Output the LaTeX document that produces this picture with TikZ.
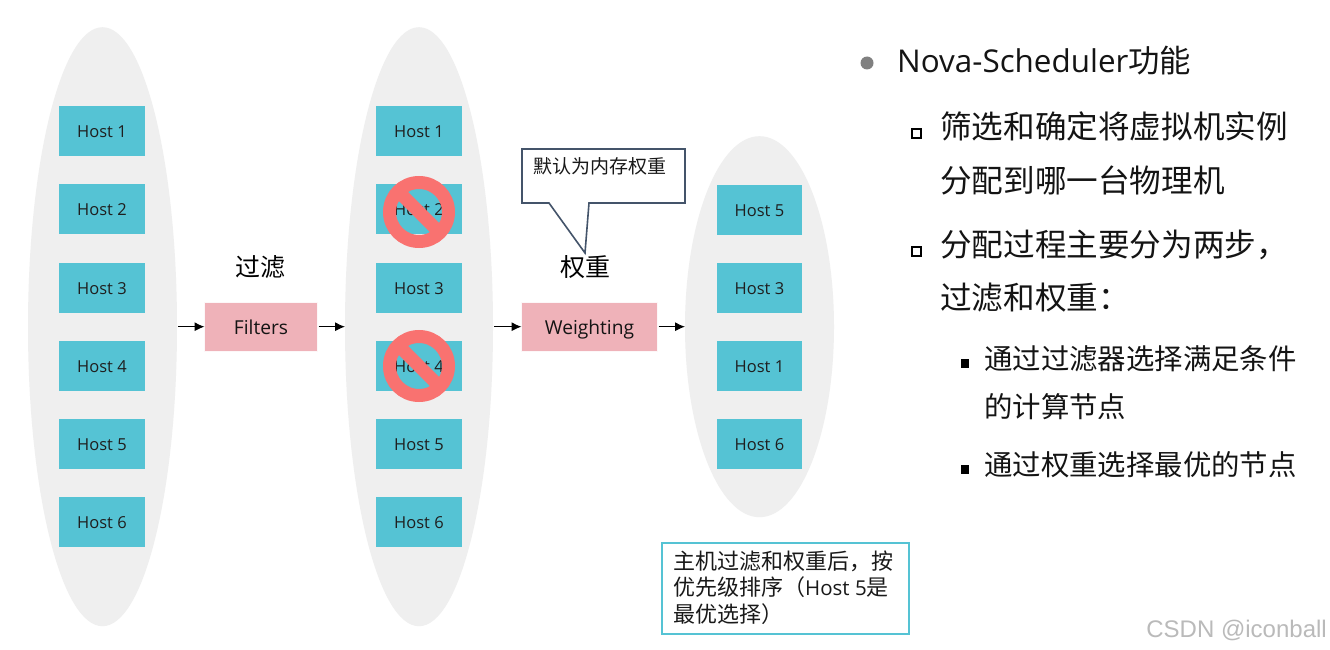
\documentclass[tikz,border=0pt]{standalone}
\usepackage{fontspec}
\setmainfont{Open Sans}
\newfontfamily\cjk{Noto Sans CJK SC}
\newfontfamily\wm{Liberation Sans}
\usetikzlibrary{arrows.meta,shapes.geometric}
\definecolor{hostc}{HTML}{55C3D4}
\definecolor{pinkc}{HTML}{EFB2B9}
\definecolor{ellc}{HTML}{EFEFEF}
\definecolor{noc}{HTML}{F97270}
\definecolor{callc}{HTML}{44546A}
\tikzset{
  x=1pt,y=-1pt,
  ell/.style={ellipse,fill=ellc,inner sep=0,outer sep=0},
  hostbox/.style={fill=hostc,minimum width=86,minimum height=50,inner sep=0,outer sep=0,text height=13,text depth=0,font=\fontsize{16.5}{18}\selectfont,text=black!88},
  pinkbox/.style={fill=pinkc,draw=white!90!pinkc,line width=.6,minimum height=48.5,inner sep=0,outer sep=0,text height=16,text depth=0,font=\fontsize{19.2}{21}\selectfont,text=black!92},
  flow/.style={-{Latex[length=10,width=9]},line width=1,black,shorten <=1,shorten >=0},
  headcn/.style={inner sep=0,font=\cjk\fontsize{25}{28}\selectfont},
  lone/.style={anchor=base west,inner sep=0,font=\cjk\fontsize{31.4}{36}\selectfont,text=black!92},
  ltwo/.style={anchor=base west,inner sep=0,font=\cjk\fontsize{31.6}{36}\selectfont,text=black!92},
  lthree/.style={anchor=base west,inner sep=0,font=\cjk\fontsize{28.4}{32}\selectfont,text=black!92},
  nobar/.style={line width=13,noc},
  noring/.style={circle,draw=noc,line width=13,minimum size=59,inner sep=0,outer sep=0},
  notetext/.style={anchor=base west,inner sep=0,font=\cjk\fontsize{22}{24}\selectfont,text=black!90},
}
\begin{document}
\begin{tikzpicture}
\useasboundingbox (0,0) rectangle (1330,650);
\fill[white] (0,0) rectangle (1330,650);
% ellipses
\node[ell,minimum width=149,minimum height=599] (e1) at (102.5,326.7) {};
\node[ell,minimum width=148,minimum height=599] (e2) at (419,326.7) {};
\node[ell,minimum width=149,minimum height=381] (e3) at (759.5,326.7) {};
% column 1
\node[hostbox] (a1) at (102,131) {Host 1};
\node[hostbox] (a2) at (102,209) {Host 2};
\node[hostbox] (a3) at (102,288) {Host 3};
\node[hostbox] (a4) at (102,366) {Host 4};
\node[hostbox] (a5) at (102,444) {Host 5};
\node[hostbox] (a6) at (102,522) {Host 6};
% column 2
\node[hostbox] (b1) at (419,131) {Host 1};
\node[hostbox] (b2) at (419,209) {Host 2};
\node[hostbox] (b3) at (419,288) {Host 3};
\node[hostbox] (b4) at (419,366) {Host 4};
\node[hostbox] (b5) at (419,444) {Host 5};
\node[hostbox] (b6) at (419,522) {Host 6};
% column 3
\node[hostbox,minimum width=85] (c1) at (759.5,209.5) {Host 5};
\node[hostbox,minimum width=85] (c2) at (759.5,288) {Host 3};
\node[hostbox,minimum width=85] (c3) at (759.5,366) {Host 1};
\node[hostbox,minimum width=85] (c4) at (759.5,444) {Host 6};
% forbidden signs
\node[noring] (n1) at (419,212) {};
\draw[nobar] (n1.135) -- (n1.-45);
\node[noring] (n2) at (419,366) {};
\draw[nobar] (n2.135) -- (n2.-45);
% process boxes
\node[pinkbox,minimum width=113] (f) at (261,326.7) {Filters};
\node[pinkbox,minimum width=136] (w) at (589.5,326.7) {Weighting};
\node[headcn] (lf) at (260,267) {过滤};
\node[headcn] (lw) at (585,267) {权重};
% arrows
\draw[flow] (e1.east) -- (f.west);
\draw[flow] (f.east) -- (e2.west);
\draw[flow] (e2.east) -- (w.west);
\draw[flow] (w.east) -- (e3.west);
% callout
\coordinate (k1) at (522,149);
\coordinate (k2) at (685,149);
\coordinate (k3) at (685,203);
\coordinate (k4) at (589,203);
\coordinate (k5) at (585,253);
\coordinate (k6) at (549,203);
\coordinate (k7) at (522,203);
\draw[callc,fill=white,line width=1.6,miter limit=10] (k1) -- (k2) -- (k3) -- (k4) -- (k5) -- (k6) -- (k7) -- cycle;
\node[anchor=base west,inner sep=0,font=\cjk\fontsize{19}{22}\selectfont,text=black!90] (ct) at (533,173) {默认为内存权重};
% note box
\node[draw=hostc,line width=2,fill=white,minimum width=247,minimum height=91,inner sep=0,outer sep=0] (nb) at (785.5,588) {};
\node[notetext] (nt1) at (673,569) {主机过滤和权重后，按};
\node[notetext] (nt2) at (673,595) {优先级排序（{\fontspec{Open Sans}\fontsize{20.5}{24}\selectfont Host 5}是};
\node[notetext] (nt3) at (673,622) {最优选择）};
% right text
\fill[black!50] (867,63) circle (6.5);
\node[lone] (t0) at (897,73) {{\fontspec{Open Sans}Nova-Scheduler}功能};
\draw[black,line width=2] (912,129) rectangle (921,138);
\node[ltwo] (t1) at (940,139) {筛选和确定将虚拟机实例};
\node[ltwo] (t2) at (940,192) {分配到哪一台物理机};
\draw[black,line width=2] (912,247) rectangle (921,256);
\node[ltwo] (t3) at (940,256.5) {分配过程主要分为两步，};
\node[ltwo] (t4) at (940,309) {过滤和权重：};
\fill[black] (961,359) rectangle (969,368);
\node[lthree] (t5) at (984,369) {通过过滤器选择满足条件};
\node[lthree] (t6) at (984,417) {的计算节点};
\fill[black] (961,465) rectangle (969,474);
\node[lthree] (t7) at (984,475) {通过权重选择最优的节点};
% watermark
\node[anchor=base east,inner sep=0,text=black!27,font=\wm\fontsize{24}{28}\selectfont] (wm) at (1327,637) {CSDN @iconball};
\end{tikzpicture}
\end{document}
